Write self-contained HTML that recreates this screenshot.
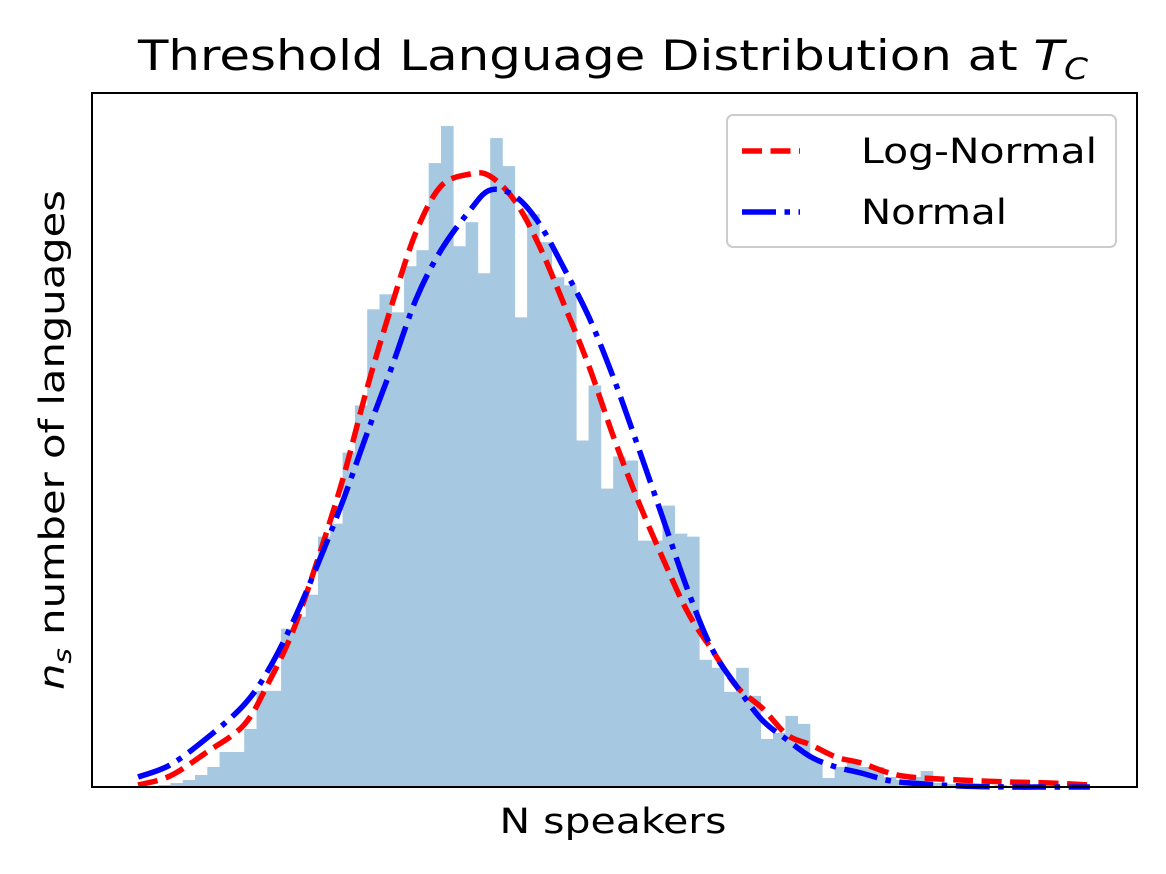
<!DOCTYPE html>
<html><head><meta charset="utf-8"><style>
html,body{margin:0;padding:0;background:#fff;}
svg{display:block;font-family:"DejaVu Sans","Liberation Sans",sans-serif;}
</style></head><body>
<svg id="chart" width="1166" height="874" viewBox="0 0 1166 874">
<rect x="0" y="0" width="1166" height="874" fill="#fff"/>
<g id="bars"></g>
<g id="curves"></g>
<rect x="92" y="93" width="1045" height="694" fill="none" stroke="#000" stroke-width="2"/>
<text x="613" y="70" font-size="42" text-anchor="middle" textLength="950" lengthAdjust="spacingAndGlyphs">Threshold Language Distribution at <tspan font-style="italic">T</tspan><tspan font-style="italic" font-size="29" dy="9">C</tspan></text>
<text x="613" y="833" font-size="35" text-anchor="middle" textLength="227" lengthAdjust="spacingAndGlyphs">N speakers</text>
<text transform="translate(64,440) rotate(-90)" font-size="35" text-anchor="middle" textLength="500" lengthAdjust="spacingAndGlyphs"><tspan font-style="italic">n</tspan><tspan font-style="italic" font-size="25" dy="7">s</tspan><tspan dy="-7"> number of languages</tspan></text>
<g>
<rect x="727" y="115" width="389" height="132" rx="6" fill="#fff" fill-opacity="0.8" stroke="#ccc" stroke-width="2"/>
<line x1="742" y1="151" x2="800" y2="151" stroke="#f00" stroke-width="5.5" stroke-dasharray="20,8.5"/>
<text x="861" y="163" font-size="35" textLength="236" lengthAdjust="spacingAndGlyphs">Log-Normal</text>
<line x1="742" y1="212" x2="800" y2="212" stroke="#00f" stroke-width="5.5" stroke-dasharray="34,8.5,5.5,8.5"/>
<text x="861" y="224" font-size="35" textLength="146" lengthAdjust="spacingAndGlyphs">Normal</text>
</g>
</svg>
<script>
// histogram counts per bin (bin index 0..77)
const binCounts = [0,1,2,4,7,12,20,35,35,58,96,96,158,170,192,250,263,334,381,477,492,474,520,536,623,660,540,564,513,648,620,469,572,544,509,501,346,401,298,330,326,246,246,281,253,250,127,119,95,119,91,48,54,71,63,27,9,20,24,20,20,10,7,10,16,4,3,4,2,1,2,1,1,1,1,1,0,1];
// sample positions (in bin units) for fitted curves
const curveX = [0.37,2.97,5.98,8.98,10.93,12.97,15.0,17.03,18.98,21.02,22.97,25.0,27.36,28.98,31.02,32.97,35.0,37.03,39.07,41.02,43.05,45.08,47.03,49.07,51.1,53.15,55.08,57.11,59.15,61.18,63.13,67.2,71.26,74.5,77.76];
const logNormalY = [2,11,35,62,103,156,228,308,398,482,554,600,612,610,585,541,482,420,348,286,228,174,137,100,79,52,42,30,24,15,10,7,5,4,2];
const normalY = [10,22,49,82,116,165,223,286,353,420,487,536,576,596,590,563,518,469,407,340,268,196,138,100,67,47,30,20,14,7,4,1,0,0,0];

const L=92,R=1137,T=93,B=787;
const bin0=133.5, binW=12.3;
const xScale = v => bin0 + v*binW;
const yMax = Math.max(...binCounts)*1.05;
const yScale = v => B - v/yMax*(B-T);
const NS='http://www.w3.org/2000/svg';

const gb=document.getElementById('bars');
binCounts.forEach((c,i)=>{
  if(c<=0) return;
  const r=document.createElementNS(NS,'rect');
  r.setAttribute('x',xScale(i));
  r.setAttribute('width',binW+0.3);
  r.setAttribute('y',yScale(c));
  r.setAttribute('height',B-yScale(c));
  r.setAttribute('fill','#a6c8e0');
  
  
  gb.appendChild(r);
});

const gc=document.getElementById('curves');
function drawCurve(vals,color,dash,name){
  const pts=curveX.map((x,i)=>[xScale(x),yScale(vals[i])]);
  let d='M'+pts[0][0].toFixed(1)+','+pts[0][1].toFixed(1);
  for(let i=0;i<pts.length-1;i++){
    const p0=pts[Math.max(0,i-1)],p1=pts[i],p2=pts[i+1],p3=pts[Math.min(pts.length-1,i+2)];
    const c1=[p1[0]+(p2[0]-p0[0])/6,p1[1]+(p2[1]-p0[1])/6];
    const c2=[p2[0]-(p3[0]-p1[0])/6,p2[1]-(p3[1]-p1[1])/6];
    d+='C'+c1[0].toFixed(1)+','+c1[1].toFixed(1)+' '+c2[0].toFixed(1)+','+c2[1].toFixed(1)+' '+p2[0].toFixed(1)+','+p2[1].toFixed(1);
  }
  const p=document.createElementNS(NS,'path');
  p.setAttribute('d',d);
  p.setAttribute('fill','none');
  p.setAttribute('stroke',color);
  p.setAttribute('stroke-width','5.5');
  p.setAttribute('stroke-dasharray',dash);
  
  
  gc.appendChild(p);
}
drawCurve(logNormalY,'#f00','20,8.5','lognormal-curve');
drawCurve(normalY,'#00f','34,8.5,5.5,8.5','normal-curve');
</script>
</body></html>
